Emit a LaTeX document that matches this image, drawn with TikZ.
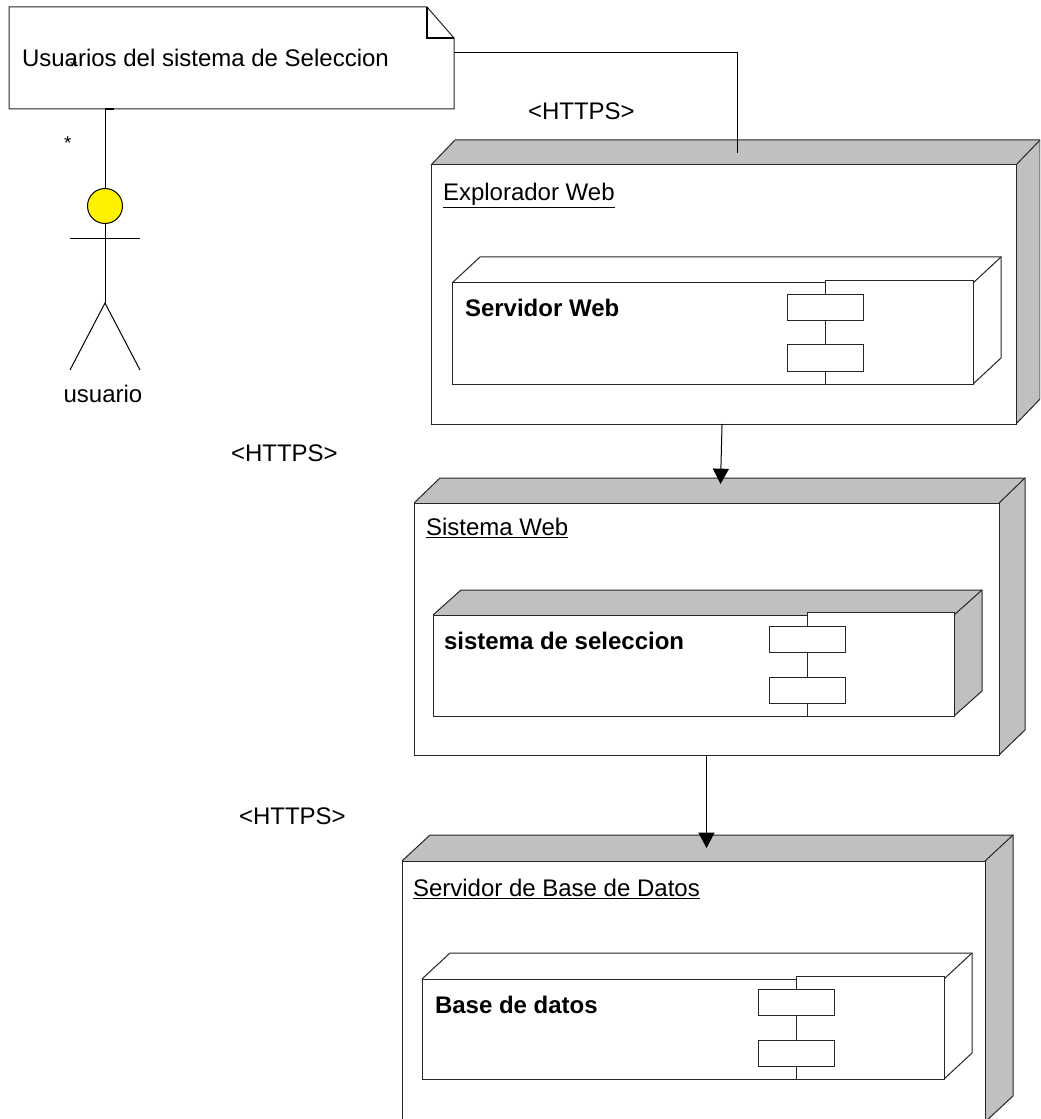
\documentclass[tikz,border=0pt]{standalone}
\usepackage{fontspec}
\setmainfont{Liberation Sans}
\usetikzlibrary{arrows.meta}
\definecolor{nodegray}{RGB}{192,192,192}
\tikzset{
  px/.style={x=0.75pt,y=-0.75pt},
  ln/.style={draw=black!85,line width=0.75pt,line join=miter},
  facebox/.style={ln,fill=white,rectangle,inner sep=0pt,outer sep=0pt},
  tabbox/.style={facebox,minimum width={76*0.75pt},minimum height={26*0.75pt}},
  txt/.style={inner sep=0pt,outer sep=0pt,anchor=base west,font=\fontsize{18}{21}\selectfont,text=black},
  btxt/.style={txt,font=\fontsize{18}{21}\selectfont\bfseries},
  smalltxt/.style={txt,font=\fontsize{14}{16}\selectfont},
  conn/.style={draw=black,line width=0.75pt},
  arr/.style={conn,-{Triangle[length=11.5pt,width=12pt,fill=black]}}
}
% name, x1,y1,x2,y2, depth x, depth y, fill
\newcommand{\boxthreed}[8]{
  \fill[#8] (#2,#3) -- ++(#6,-#7) -- ({#4+#6},{#3-#7}) -- ({#4+#6},{#5-#7}) -- (#4,#5) -- (#4,#3) -- cycle;
  \draw[ln] (#2,#3) -- ++(#6,-#7) -- ({#4+#6},{#3-#7}) -- ({#4+#6},{#5-#7}) -- (#4,#5);
  \draw[ln] (#4,#3) -- ({#4+#6},{#3-#7});
  \node[facebox,minimum width={(#4-#2)*0.75pt},minimum height={(#5-#3)*0.75pt}] (#1) at ({(#2+#4)/2},{(#3+#5)/2}) {};
}
% name, box left, box top, box right, box bottom, tab y1, tab y2
\newcommand{\compparts}[7]{
  \node[facebox,minimum width={(#4-#2)*0.75pt},minimum height={(#5-#3)*0.75pt}] (#1box) at ({(#2+#4)/2},{(#3+#5)/2}) {};
  \node[tabbox] (#1taba) at (#2,#6) {};
  \node[tabbox] (#1tabb) at (#2,#7) {};
  \draw[ln] (#1taba) -- (#1tabb);
}
\begin{document}
\begin{tikzpicture}[px]
\useasboundingbox (0,0) rectangle (1040,1119);
\clip (0,0) rectangle (1040,1119);
\fill[white] (0,0) rectangle (1040,1119);

% note
\coordinate (n1) at (9,7); \coordinate (n2) at (427,7); \coordinate (n3) at (454,38);
\coordinate (n4) at (454,109); \coordinate (n5) at (9,109); \coordinate (n6) at (427,38);
\draw[ln,fill=white] (n1) -- (n2) -- (n3) -- (n4) -- (n5) -- cycle;
\draw[draw=black,line width=1.1pt] (n2) -- (n6) -- (n3);
\node[txt] (notetxt) at (22,67) {Usuarios del sistema de Seleccion};
\node[smalltxt] (stara) at (70,74) {*};
\node[smalltxt] (starb) at (64,150) {*};

% node 1
\boxthreed{exp}{431}{165}{1016}{424}{24}{25}{nodegray}
\node[txt] (explabel) at (443,200.5) {\underline{Explorador Web}};
\boxthreed{srv}{452}{283}{973}{384}{28}{26}{white}
\compparts{srv}{825}{281}{973}{384}{308}{358}
\node[btxt] (srvlabel) at (465,317) {Servidor Web};

% node 2
\boxthreed{sis}{414}{503}{999}{755}{26}{25}{nodegray}
\node[txt] (sislabel) at (426,535) {\underline{Sistema Web}};
\boxthreed{sel}{433}{615}{954}{716}{28}{25}{nodegray}
\compparts{sel}{807}{612}{954}{716}{639}{690}
\node[btxt] (sellabel) at (444,649) {sistema de seleccion};

% node 3
\boxthreed{dbs}{402}{861}{985}{1122}{28}{26}{nodegray}
\node[txt] (dbslabel) at (413,896.5) {\underline{Servidor de Base de Datos}};
\boxthreed{bdd}{422}{979}{944}{1079}{28}{26}{white}
\compparts{bdd}{796}{976}{944}{1079}{1002}{1053}
\node[btxt] (bddlabel) at (435,1013) {Base de datos};

% labels
\node[txt] (httpsa) at (528,119.5) {<HTTPS>};
\node[txt] (httpsb) at (231,461) {<HTTPS>};
\node[txt] (httpsc) at (239,824) {<HTTPS>};

% connectors
\coordinate (upin) at (737,153);
\draw[conn] (n3 |- 0,53) -- (737,53) -- (upin);
\coordinate (tipa) at (720.5,484);
\coordinate (tipb) at (706.5,848);
\draw[arr] ([xshift=-1.1pt]exp.south) -- (tipa);
\draw[arr] (706.5,755) -- (tipb);

% actor
\node[draw=black,line width=0.75pt,fill=yellow,circle,inner sep=0pt,outer sep=0pt,minimum size={35*0.75pt}] (head) at (105,206) {};
\coordinate (noteb) at (105,109);
\coordinate (hip) at (105,303);
\coordinate (arml) at (70,239); \coordinate (armr) at (140,239);
\coordinate (legl) at (70,370); \coordinate (legr) at (140,370);
\draw[conn] (noteb) -- (head.north);
\draw[conn] (head.south) -- (hip);
\draw[conn] (arml) -- (armr);
\draw[conn] (legl) -- (hip) -- (legr);
\draw[conn,line width=1.1pt] (noteb) -- (114,109);
\node[txt,anchor=base] (actor) at (103,402) {usuario};
\end{tikzpicture}
\end{document}
